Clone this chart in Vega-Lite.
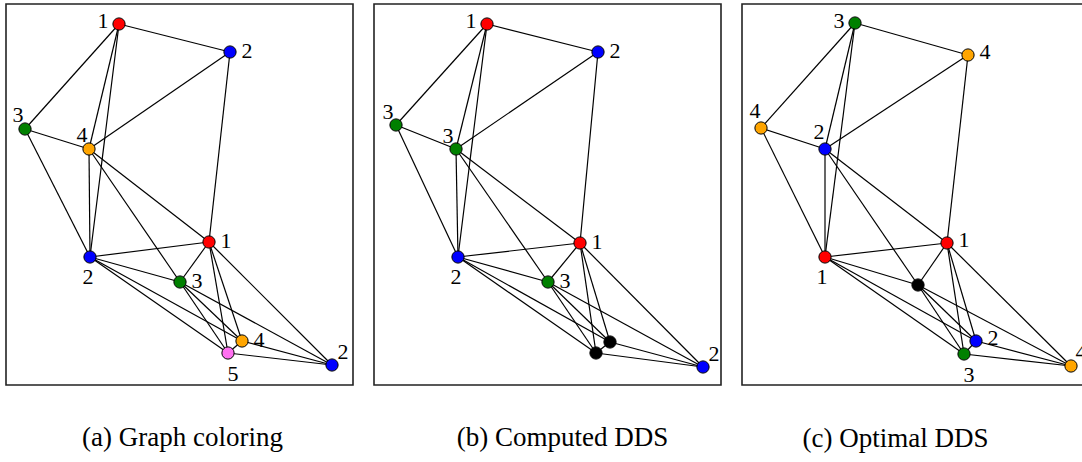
{
  "$schema": "https://vega.github.io/schema/vega-lite/v6.json",
  "padding": {"left": 5, "top": 3, "right": 0, "bottom": 0},
  "spacing": 19,
  "background": "white",
  "config": {
    "view": {"stroke": "#222222", "strokeWidth": 1.6},
    "text": {"font": "Times New Roman, Liberation Serif, serif"},
    "title": {"font": "Times New Roman, Liberation Serif, serif", "fontSize": 27, "fontWeight": "normal", "color": "#000000", "orient": "bottom", "offset": 40, "anchor": "middle"}
  },
  "datasets": {
    "edges": [
      {"s": "A", "t": "B"}, {"s": "A", "t": "C"}, {"s": "A", "t": "D"}, {"s": "A", "t": "F"},
      {"s": "B", "t": "D"}, {"s": "B", "t": "E"}, {"s": "C", "t": "D"}, {"s": "C", "t": "F"},
      {"s": "D", "t": "E"}, {"s": "D", "t": "F"}, {"s": "D", "t": "G"}, {"s": "E", "t": "F"},
      {"s": "E", "t": "G"}, {"s": "E", "t": "H"}, {"s": "E", "t": "I"}, {"s": "E", "t": "J"},
      {"s": "F", "t": "G"}, {"s": "F", "t": "H"}, {"s": "F", "t": "I"}, {"s": "G", "t": "H"},
      {"s": "G", "t": "I"}, {"s": "G", "t": "J"}, {"s": "H", "t": "I"}, {"s": "H", "t": "J"},
      {"s": "I", "t": "J"}
    ],
    "nodesA": [
      {"id": "A", "x": 113, "y": 20, "c": "red", "lab": "1", "pos": "left"},
      {"id": "B", "x": 224, "y": 48, "c": "blue", "lab": "2", "pos": "right"},
      {"id": "C", "x": 19, "y": 125, "c": "green", "lab": "3", "pos": "aboveleft"},
      {"id": "D", "x": 83, "y": 145, "c": "orange", "lab": "4", "pos": "aboveleft"},
      {"id": "E", "x": 203, "y": 238, "c": "red", "lab": "1", "pos": "right"},
      {"id": "F", "x": 84, "y": 253, "c": "blue", "lab": "2", "pos": "below"},
      {"id": "G", "x": 174, "y": 278, "c": "green", "lab": "3", "pos": "right"},
      {"id": "H", "x": 236, "y": 337, "c": "orange", "lab": "4", "pos": "right"},
      {"id": "I", "x": 222, "y": 349, "c": "pink", "lab": "5", "pos": "belowright"},
      {"id": "J", "x": 326, "y": 361, "c": "blue", "lab": "2", "pos": "aboveright"}
    ],
    "nodesB": [
      {"id": "A", "x": 113, "y": 20, "c": "red", "lab": "1", "pos": "left"},
      {"id": "B", "x": 224, "y": 48, "c": "blue", "lab": "2", "pos": "right"},
      {"id": "C", "x": 22, "y": 121, "c": "green", "lab": "3", "pos": "aboveleft"},
      {"id": "D", "x": 82, "y": 145, "c": "green", "lab": "3", "pos": "aboveleft"},
      {"id": "E", "x": 206, "y": 239, "c": "red", "lab": "1", "pos": "right"},
      {"id": "F", "x": 84, "y": 253, "c": "blue", "lab": "2", "pos": "below"},
      {"id": "G", "x": 174, "y": 278, "c": "green", "lab": "3", "pos": "right"},
      {"id": "H", "x": 236, "y": 338, "c": "black", "lab": "", "pos": "none"},
      {"id": "I", "x": 222, "y": 349, "c": "black", "lab": "", "pos": "none"},
      {"id": "J", "x": 329, "y": 363, "c": "blue", "lab": "2", "pos": "aboveright"}
    ],
    "nodesC": [
      {"id": "A", "x": 113, "y": 19, "c": "green", "lab": "3", "pos": "left"},
      {"id": "B", "x": 226, "y": 51, "c": "orange", "lab": "4", "pos": "right"},
      {"id": "C", "x": 19, "y": 124, "c": "orange", "lab": "4", "pos": "aboveleft"},
      {"id": "D", "x": 83, "y": 145, "c": "blue", "lab": "2", "pos": "aboveleft"},
      {"id": "E", "x": 205, "y": 239, "c": "red", "lab": "1", "pos": "right"},
      {"id": "F", "x": 83, "y": 253, "c": "red", "lab": "1", "pos": "below"},
      {"id": "G", "x": 176, "y": 281, "c": "black", "lab": "", "pos": "none"},
      {"id": "H", "x": 234, "y": 337, "c": "blue", "lab": "2", "pos": "right"},
      {"id": "I", "x": 222, "y": 350, "c": "green", "lab": "3", "pos": "belowright"},
      {"id": "J", "x": 329, "y": 362, "c": "orange", "lab": "4", "pos": "aboveright"}
    ]
  },
  "hconcat": [
    {
      "width": 347, "height": 381,
      "title": {"text": "(a) Graph coloring", "dx": 3},
      "layer": [
        {
          "data": {"name": "edges"},
          "transform": [
            {"lookup": "s", "from": {"data": {"name": "nodesA"}, "key": "id", "fields": ["x", "y"]}, "as": ["x1", "y1"]},
            {"lookup": "t", "from": {"data": {"name": "nodesA"}, "key": "id", "fields": ["x", "y"]}, "as": ["x2", "y2"]}
          ],
          "mark": {"type": "rule", "color": "black", "strokeWidth": 1.2},
          "encoding": {
            "x": {"field": "x1", "type": "quantitative", "scale": {"domain": [0, 347], "nice": false, "zero": false}, "axis": null},
            "y": {"field": "y1", "type": "quantitative", "scale": {"domain": [0, 381], "nice": false, "zero": false, "reverse": true}, "axis": null},
            "x2": {"field": "x2"},
            "y2": {"field": "y2"}
          }
        },
        {
          "data": {"name": "nodesA"},
          "mark": {"type": "point", "filled": true, "size": 150, "stroke": "black", "strokeWidth": 1, "opacity": 1},
          "encoding": {
            "x": {"field": "x", "type": "quantitative"},
            "y": {"field": "y", "type": "quantitative"},
            "fill": {"field": "c", "type": "nominal", "legend": null, "scale": {"domain": ["red", "blue", "green", "orange", "pink", "black"], "range": ["#ff0000", "#0000ff", "#008000", "#ffa500", "#ff70f0", "#000000"]}}
          }
        },
        {"data": {"name": "nodesA"}, "transform": [{"filter": "datum.pos === 'left'"}], "mark": {"type": "text", "fontSize": 22, "dx": -16, "dy": -3, "color": "black"}, "encoding": {"x": {"field": "x", "type": "quantitative"}, "y": {"field": "y", "type": "quantitative"}, "text": {"field": "lab"}}},
        {"data": {"name": "nodesA"}, "transform": [{"filter": "datum.pos === 'right'"}], "mark": {"type": "text", "fontSize": 22, "dx": 17, "dy": -1, "color": "black"}, "encoding": {"x": {"field": "x", "type": "quantitative"}, "y": {"field": "y", "type": "quantitative"}, "text": {"field": "lab"}}},
        {"data": {"name": "nodesA"}, "transform": [{"filter": "datum.pos === 'below'"}], "mark": {"type": "text", "fontSize": 22, "dx": -2, "dy": 20, "color": "black"}, "encoding": {"x": {"field": "x", "type": "quantitative"}, "y": {"field": "y", "type": "quantitative"}, "text": {"field": "lab"}}},
        {"data": {"name": "nodesA"}, "transform": [{"filter": "datum.pos === 'belowright'"}], "mark": {"type": "text", "fontSize": 22, "dx": 5, "dy": 21, "color": "black"}, "encoding": {"x": {"field": "x", "type": "quantitative"}, "y": {"field": "y", "type": "quantitative"}, "text": {"field": "lab"}}},
        {"data": {"name": "nodesA"}, "transform": [{"filter": "datum.pos === 'aboveleft'"}], "mark": {"type": "text", "fontSize": 22, "dx": -7, "dy": -14, "color": "black"}, "encoding": {"x": {"field": "x", "type": "quantitative"}, "y": {"field": "y", "type": "quantitative"}, "text": {"field": "lab"}}},
        {"data": {"name": "nodesA"}, "transform": [{"filter": "datum.pos === 'aboveright'"}], "mark": {"type": "text", "fontSize": 22, "dx": 11, "dy": -13, "color": "black"}, "encoding": {"x": {"field": "x", "type": "quantitative"}, "y": {"field": "y", "type": "quantitative"}, "text": {"field": "lab"}}}
      ]
    },
    {
      "width": 347, "height": 381,
      "title": {"text": "(b) Computed DDS", "dx": 15},
      "layer": [
        {
          "data": {"name": "edges"},
          "transform": [
            {"lookup": "s", "from": {"data": {"name": "nodesB"}, "key": "id", "fields": ["x", "y"]}, "as": ["x1", "y1"]},
            {"lookup": "t", "from": {"data": {"name": "nodesB"}, "key": "id", "fields": ["x", "y"]}, "as": ["x2", "y2"]}
          ],
          "mark": {"type": "rule", "color": "black", "strokeWidth": 1.2},
          "encoding": {
            "x": {"field": "x1", "type": "quantitative", "scale": {"domain": [0, 347], "nice": false, "zero": false}, "axis": null},
            "y": {"field": "y1", "type": "quantitative", "scale": {"domain": [0, 381], "nice": false, "zero": false, "reverse": true}, "axis": null},
            "x2": {"field": "x2"},
            "y2": {"field": "y2"}
          }
        },
        {
          "data": {"name": "nodesB"},
          "mark": {"type": "point", "filled": true, "size": 150, "stroke": "black", "strokeWidth": 1, "opacity": 1},
          "encoding": {
            "x": {"field": "x", "type": "quantitative"},
            "y": {"field": "y", "type": "quantitative"},
            "fill": {"field": "c", "type": "nominal", "legend": null, "scale": {"domain": ["red", "blue", "green", "orange", "pink", "black"], "range": ["#ff0000", "#0000ff", "#008000", "#ffa500", "#ff70f0", "#000000"]}}
          }
        },
        {"data": {"name": "nodesB"}, "transform": [{"filter": "datum.pos === 'left'"}], "mark": {"type": "text", "fontSize": 22, "dx": -16, "dy": -3, "color": "black"}, "encoding": {"x": {"field": "x", "type": "quantitative"}, "y": {"field": "y", "type": "quantitative"}, "text": {"field": "lab"}}},
        {"data": {"name": "nodesB"}, "transform": [{"filter": "datum.pos === 'right'"}], "mark": {"type": "text", "fontSize": 22, "dx": 17, "dy": -1, "color": "black"}, "encoding": {"x": {"field": "x", "type": "quantitative"}, "y": {"field": "y", "type": "quantitative"}, "text": {"field": "lab"}}},
        {"data": {"name": "nodesB"}, "transform": [{"filter": "datum.pos === 'below'"}], "mark": {"type": "text", "fontSize": 22, "dx": -2, "dy": 20, "color": "black"}, "encoding": {"x": {"field": "x", "type": "quantitative"}, "y": {"field": "y", "type": "quantitative"}, "text": {"field": "lab"}}},
        {"data": {"name": "nodesB"}, "transform": [{"filter": "datum.pos === 'aboveleft'"}], "mark": {"type": "text", "fontSize": 22, "dx": -8, "dy": -13, "color": "black"}, "encoding": {"x": {"field": "x", "type": "quantitative"}, "y": {"field": "y", "type": "quantitative"}, "text": {"field": "lab"}}},
        {"data": {"name": "nodesB"}, "transform": [{"filter": "datum.pos === 'aboveright'"}], "mark": {"type": "text", "fontSize": 22, "dx": 11, "dy": -13, "color": "black"}, "encoding": {"x": {"field": "x", "type": "quantitative"}, "y": {"field": "y", "type": "quantitative"}, "text": {"field": "lab"}}}
      ]
    },
    {
      "width": 347, "height": 381,
      "title": {"text": "(c) Optimal DDS", "dx": -20},
      "layer": [
        {
          "data": {"name": "edges"},
          "transform": [
            {"lookup": "s", "from": {"data": {"name": "nodesC"}, "key": "id", "fields": ["x", "y"]}, "as": ["x1", "y1"]},
            {"lookup": "t", "from": {"data": {"name": "nodesC"}, "key": "id", "fields": ["x", "y"]}, "as": ["x2", "y2"]}
          ],
          "mark": {"type": "rule", "color": "black", "strokeWidth": 1.2},
          "encoding": {
            "x": {"field": "x1", "type": "quantitative", "scale": {"domain": [0, 347], "nice": false, "zero": false}, "axis": null},
            "y": {"field": "y1", "type": "quantitative", "scale": {"domain": [0, 381], "nice": false, "zero": false, "reverse": true}, "axis": null},
            "x2": {"field": "x2"},
            "y2": {"field": "y2"}
          }
        },
        {
          "data": {"name": "nodesC"},
          "mark": {"type": "point", "filled": true, "size": 150, "stroke": "black", "strokeWidth": 1, "opacity": 1},
          "encoding": {
            "x": {"field": "x", "type": "quantitative"},
            "y": {"field": "y", "type": "quantitative"},
            "fill": {"field": "c", "type": "nominal", "legend": null, "scale": {"domain": ["red", "blue", "green", "orange", "pink", "black"], "range": ["#ff0000", "#0000ff", "#008000", "#ffa500", "#ff70f0", "#000000"]}}
          }
        },
        {"data": {"name": "nodesC"}, "transform": [{"filter": "datum.pos === 'left'"}], "mark": {"type": "text", "fontSize": 22, "dx": -16, "dy": -2, "color": "black"}, "encoding": {"x": {"field": "x", "type": "quantitative"}, "y": {"field": "y", "type": "quantitative"}, "text": {"field": "lab"}}},
        {"data": {"name": "nodesC"}, "transform": [{"filter": "datum.pos === 'right'"}], "mark": {"type": "text", "fontSize": 22, "dx": 17, "dy": -3, "color": "black"}, "encoding": {"x": {"field": "x", "type": "quantitative"}, "y": {"field": "y", "type": "quantitative"}, "text": {"field": "lab"}}},
        {"data": {"name": "nodesC"}, "transform": [{"filter": "datum.pos === 'below'"}], "mark": {"type": "text", "fontSize": 22, "dx": -3, "dy": 20, "color": "black"}, "encoding": {"x": {"field": "x", "type": "quantitative"}, "y": {"field": "y", "type": "quantitative"}, "text": {"field": "lab"}}},
        {"data": {"name": "nodesC"}, "transform": [{"filter": "datum.pos === 'belowright'"}], "mark": {"type": "text", "fontSize": 22, "dx": 5, "dy": 21, "color": "black"}, "encoding": {"x": {"field": "x", "type": "quantitative"}, "y": {"field": "y", "type": "quantitative"}, "text": {"field": "lab"}}},
        {"data": {"name": "nodesC"}, "transform": [{"filter": "datum.pos === 'aboveleft'"}], "mark": {"type": "text", "fontSize": 22, "dx": -6, "dy": -17, "color": "black"}, "encoding": {"x": {"field": "x", "type": "quantitative"}, "y": {"field": "y", "type": "quantitative"}, "text": {"field": "lab"}}},
        {"data": {"name": "nodesC"}, "transform": [{"filter": "datum.pos === 'aboveright'"}], "mark": {"type": "text", "fontSize": 22, "dx": 10, "dy": -14, "color": "black"}, "encoding": {"x": {"field": "x", "type": "quantitative"}, "y": {"field": "y", "type": "quantitative"}, "text": {"field": "lab"}}}
      ]
    }
  ]
}
